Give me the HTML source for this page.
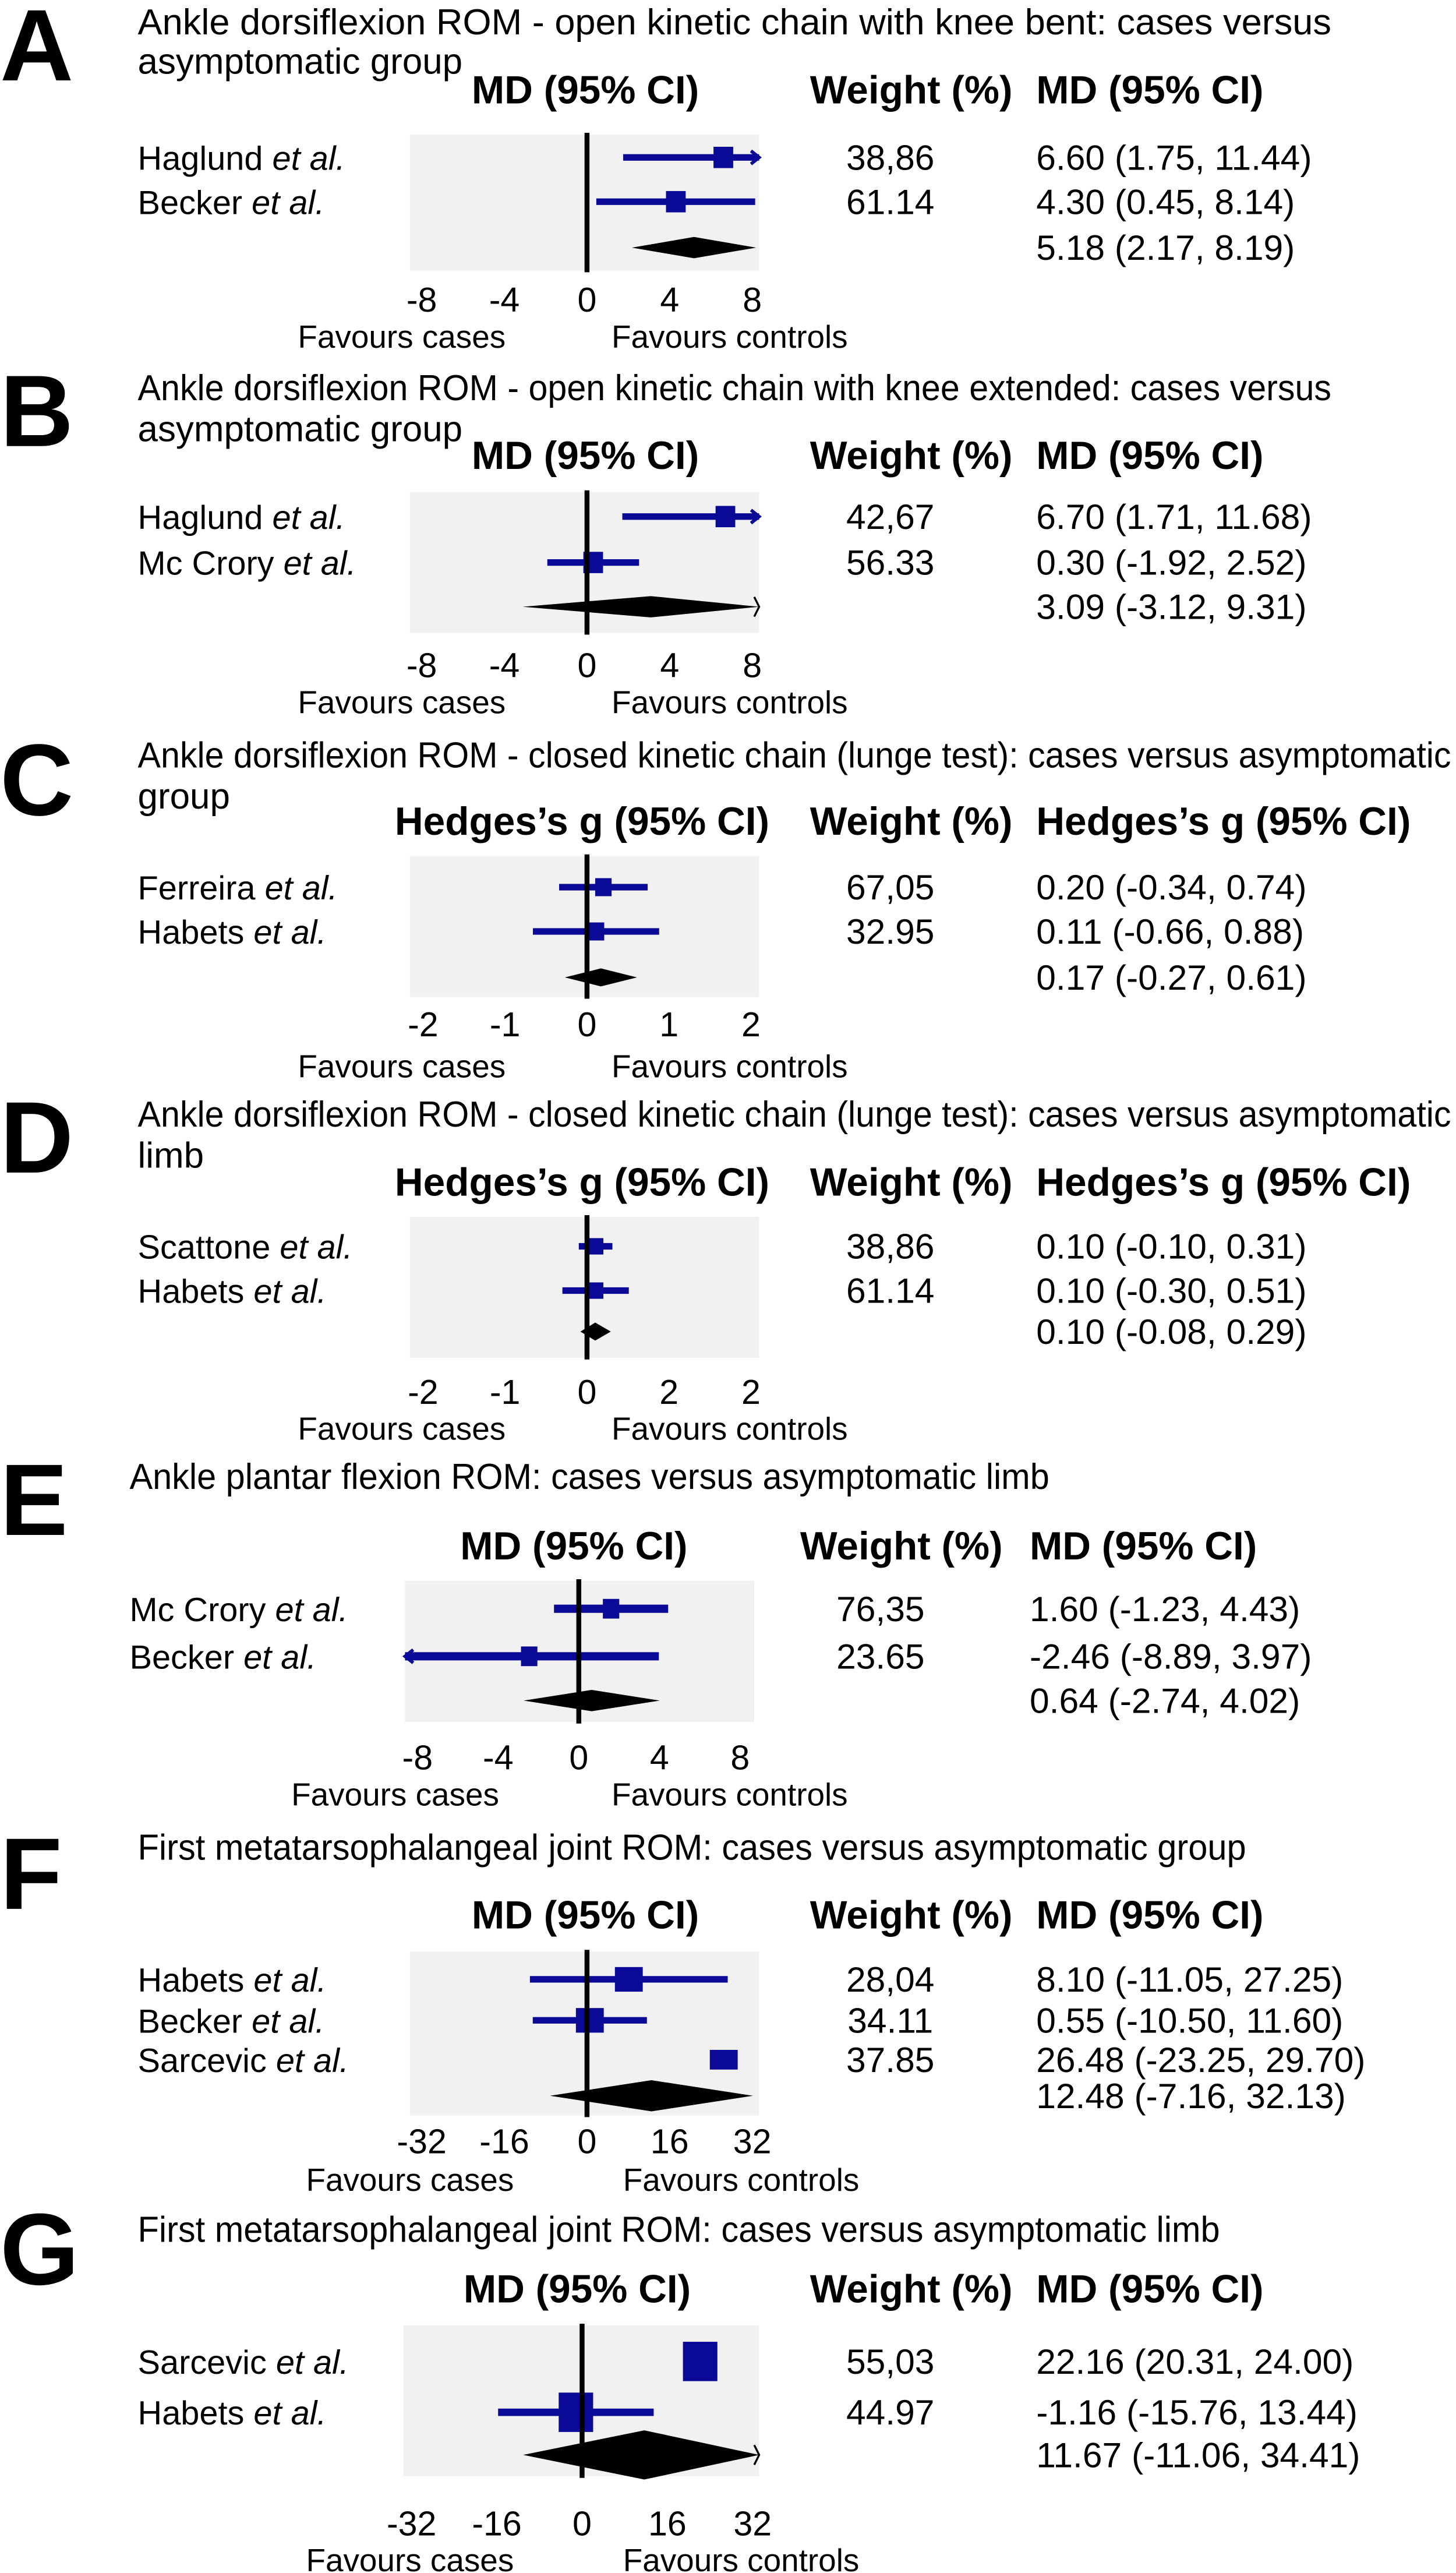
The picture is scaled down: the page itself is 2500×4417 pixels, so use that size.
<!DOCTYPE html>
<html><head><meta charset="utf-8"><style>
html,body{margin:0;padding:0;background:#fff;}
svg{display:block;font-family:"Liberation Sans",Arial,sans-serif;}
</style></head><body>
<svg id="fig" width="2500" height="4417" viewBox="0 0 888 1569" xmlns="http://www.w3.org/2000/svg"></svg>
<script>
// ---------- Data arrays ----------
const aStudies = ["Haglund", "Becker"];
const aMD = [6.60, 4.30];
const aLo = [1.75, 0.45];
const aHi = [11.44, 8.14];
const aWeights = ["38,86", "61.14"];
const aPooled = [5.18, 2.17, 8.19];
const aTicks = [-8, -4, 0, 4, 8];

const bStudies = ["Haglund", "Mc Crory"];
const bMD = [6.70, 0.30];
const bLo = [1.71, -1.92];
const bHi = [11.68, 2.52];
const bWeights = ["42,67", "56.33"];
const bPooled = [3.09, -3.12, 9.31];
const bTicks = [-8, -4, 0, 4, 8];

const cStudies = ["Ferreira", "Habets"];
const cMD = [0.20, 0.11];
const cLo = [-0.34, -0.66];
const cHi = [0.74, 0.88];
const cWeights = ["67,05", "32.95"];
const cPooled = [0.17, -0.27, 0.61];
const cTicks = [-2, -1, 0, 1, 2];
const cTickLabels = ["-2", "-1", "0", "1", "2"];

const dStudies = ["Scattone", "Habets"];
const dMD = [0.10, 0.10];
const dLo = [-0.10, -0.30];
const dHi = [0.31, 0.51];
const dWeights = ["38,86", "61.14"];
const dPooled = [0.10, -0.08, 0.29];
const dTicks = [-2, -1, 0, 1, 2];
const dTickLabels = ["-2", "-1", "0", "2", "2"];

const eStudies = ["Mc Crory", "Becker"];
const eMD = [1.60, -2.46];
const eLo = [-1.23, -8.89];
const eHi = [4.43, 3.97];
const eWeights = ["76,35", "23.65"];
const ePooled = [0.64, -2.74, 4.02];
const eTicks = [-8, -4, 0, 4, 8];

const fStudies = ["Habets", "Becker", "Sarcevic"];
const fMD = [8.10, 0.55, 26.48];
const fLo = [-11.05, -10.50, -23.25];
const fHi = [27.25, 11.60, 29.70];
const fCIShown = [true, true, false];
const fWeights = ["28,04", "34.11", "37.85"];
const fPooled = [12.48, -7.16, 32.13];
const fTicks = [-32, -16, 0, 16, 32];

const gStudies = ["Sarcevic", "Habets"];
const gMD = [22.16, -1.16];
const gLo = [20.31, -15.76];
const gHi = [24.00, 13.44];
const gCIShown = [false, true];
const gWeights = ["55,03", "44.97"];
const gPooled = [11.67, -11.06, 34.41];
const gTicks = [-32, -16, 0, 16, 32];

// ---------- Rendering ----------
const NS = "http://www.w3.org/2000/svg";
const svg = document.getElementById("fig");
function mk(tag, attrs, parent) {
  const e = document.createElementNS(NS, tag);
  for (const k in attrs) e.setAttribute(k, attrs[k]);
  (parent || svg).appendChild(e);
  return e;
}
function fmt(v, d) { return v.toFixed(d); }
const FS_TITLE = 22, FS_ROW = 20.5, FS_VAL = 21.5, FS_HDR = 24, FS_TICK = 21, FS_FAV = 19.5;

function panel(L, D) {
  const g = mk("g", {});
  
  
  const lt = mk("text", {x: 0, y: L.letterY, "font-size": 62, "font-weight": "bold"}, g);
  lt.textContent = L.letter;
  
  
  L.titles.forEach((t, i) => {
    const attrs = {x: L.labelX, y: L.titleY[i], "font-size": FS_TITLE};
    if (L.titleLen[i]) { attrs.textLength = L.titleLen[i]; attrs.lengthAdjust = "spacingAndGlyphs"; }
    const te = mk("text", attrs, g);
    te.textContent = t;
    
    
  });
  const h1 = mk("text", {x: L.h1x, y: L.headerY, "font-size": FS_HDR, "font-weight": "bold", "text-anchor": "middle"}, g);
  h1.textContent = L.hdr;
  
  
  const h2 = mk("text", {x: L.h2x, y: L.headerY, "font-size": FS_HDR, "font-weight": "bold"}, g);
  h2.textContent = "Weight (%)";
  
  
  const h3 = mk("text", {x: L.valX, y: L.headerY, "font-size": FS_HDR, "font-weight": "bold"}, g);
  h3.textContent = L.hdr;
  
  

  const bx = mk("rect", {x: L.bx0, y: L.by0, width: L.bx1 - L.bx0, height: L.by1 - L.by0, fill: "#f1f1f1"}, g);
  
  
  const X = v => L.zero + v * L.ppu;
  const clampX = x => Math.max(L.bx0, Math.min(L.bx1, x));
  const blue = "#0a0a96";

  D.studies.forEach((s, i) => {
    const y = L.rows[i];
    const lab = mk("text", {x: L.labelX, y: y + 7.5, "font-size": FS_ROW}, g);
    
    
    const t1 = mk("tspan", {}, lab); t1.textContent = s + " ";
    const t2 = mk("tspan", {"font-style": "italic"}, lab); t2.textContent = "et al.";
    const w = mk("text", {x: L.weightX, y: y + 7.5, "font-size": FS_VAL, "text-anchor": "middle"}, g);
    w.textContent = D.weights[i];
    
    
    const v = mk("text", {x: L.valX, y: y + 7.5, "font-size": FS_VAL}, g);
    v.textContent = fmt(D.md[i], 2) + " (" + fmt(D.lo[i], 2) + ", " + fmt(D.hi[i], 2) + ")";
    
    
    const shown = D.ciShown ? D.ciShown[i] : true;
    if (shown) {
      const x1 = clampX(X(D.lo[i])), x2 = clampX(X(D.hi[i]));
      const ln = mk("line", {x1: x1, x2: x2, y1: y, y2: y, stroke: blue, "stroke-width": L.lw}, g);
      
      
      if (X(D.hi[i]) > L.bx1) {
        const a = mk("path", {d: `M${L.bx1 - 5},${y - 4} L${L.bx1},${y} L${L.bx1 - 5},${y + 4}`, fill: "none", stroke: blue, "stroke-width": 2}, g);
        
        
      }
      if (X(D.lo[i]) < L.bx0) {
        const a = mk("path", {d: `M${L.bx0 + 5},${y - 4} L${L.bx0},${y} L${L.bx0 + 5},${y + 4}`, fill: "none", stroke: blue, "stroke-width": 2}, g);
        
        
      }
    }
    const sw = L.sq[i][0], sh = L.sq[i][1];
    const sq = mk("rect", {x: X(D.md[i]) - sw / 2, y: y - sh / 2, width: sw, height: sh, fill: blue}, g);
    
    
  });

  const zl = mk("line", {x1: L.zero, x2: L.zero, y1: L.by0 - 1, y2: L.by1 + 1, stroke: "#000", "stroke-width": 3}, g);
  
  

  const p = D.pooled, dy = L.diaY, hh = L.diaH / 2;
  const xl = clampX(X(p[1])), xr = clampX(X(p[2])), xm = X(p[0]);
  const dm = mk("polygon", {points: `${xl},${dy} ${xm},${dy - hh} ${xr},${dy} ${xm},${dy + hh}`, fill: "#000"}, g);
  
  
  if (X(p[2]) > L.bx1) {
    const a = mk("path", {d: `M${L.bx1 - 3},${dy - 6} L${L.bx1},${dy} L${L.bx1 - 3},${dy + 6}`, fill: "none", stroke: "#000", "stroke-width": 1.2}, g);
    
    
  }
  const pv = mk("text", {x: L.valX, y: dy + 7.5, "font-size": FS_VAL}, g);
  pv.textContent = fmt(p[0], 2) + " (" + fmt(p[1], 2) + ", " + fmt(p[2], 2) + ")";
  
  

  D.ticks.forEach((t, i) => {
    const tx = mk("text", {x: X(t), y: L.tickY, "font-size": FS_TICK, "text-anchor": "middle"}, g);
    tx.textContent = D.tickLabels ? D.tickLabels[i] : String(t);
    
    
  });
  const f1 = mk("text", {x: L.fav[0], y: L.favY, "font-size": FS_FAV, "text-anchor": "middle"}, g);
  f1.textContent = "Favours cases";
  
  
  const f2 = mk("text", {x: L.fav[1], y: L.favY, "font-size": FS_FAV, "text-anchor": "middle"}, g);
  f2.textContent = "Favours controls";
  
  
}

const base = {labelX: 84, h1x: 357, h2x: 494, valX: 632, weightX: 543, bx0: 250, bx1: 463, zero: 358, lw: 4, fav: [245, 445]};
const MDh = "MD (95% CI)", HGh = "Hedges\u2019s g (95% CI)";

panel(Object.assign({}, base, {letter: "A", letterY: 49, titles: ["Ankle dorsiflexion ROM - open kinetic chain with knee bent: cases versus", "asymptomatic group"], titleLen: [728, 0], titleY: [21, 45], headerY: 63, hdr: MDh, by0: 82, by1: 165, ppu: 12.6, rows: [96, 123], diaY: 151, diaH: 13, tickY: 190, favY: 212, sq: [[12, 13], [12, 13]]}),
  {studies: aStudies, md: aMD, lo: aLo, hi: aHi, weights: aWeights, pooled: aPooled, ticks: aTicks});

panel(Object.assign({}, base, {letter: "B", letterY: 272, titles: ["Ankle dorsiflexion ROM - open kinetic chain with knee extended: cases versus", "asymptomatic group"], titleLen: [728, 0], titleY: [244, 269], headerY: 286, hdr: MDh, by0: 300, by1: 386, ppu: 12.6, rows: [315, 343], diaY: 370, diaH: 13, tickY: 413, favY: 435, sq: [[12, 13], [12, 13]]}),
  {studies: bStudies, md: bMD, lo: bLo, hi: bHi, weights: bWeights, pooled: bPooled, ticks: bTicks});

panel(Object.assign({}, base, {letter: "C", letterY: 497, titles: ["Ankle dorsiflexion ROM - closed kinetic chain (lunge test): cases versus asymptomatic", "group"], titleLen: [801, 0], titleY: [468, 493], headerY: 509, hdr: HGh, h1x: 355, h2x: 494, by0: 522, by1: 608, ppu: 50, rows: [541, 568], diaY: 596, diaH: 11, tickY: 632, favY: 657, sq: [[10, 11], [10, 11]]}),
  {studies: cStudies, md: cMD, lo: cLo, hi: cHi, weights: cWeights, pooled: cPooled, ticks: cTicks, tickLabels: cTickLabels});

panel(Object.assign({}, base, {letter: "D", letterY: 715, titles: ["Ankle dorsiflexion ROM - closed kinetic chain (lunge test): cases versus asymptomatic", "limb"], titleLen: [801, 0], titleY: [687, 712], headerY: 729, hdr: HGh, h1x: 355, h2x: 494, by0: 742, by1: 828, ppu: 50, rows: [760, 787], diaY: 812, diaH: 11, tickY: 856, favY: 878, sq: [[10, 10], [10, 10]]}),
  {studies: dStudies, md: dMD, lo: dLo, hi: dHi, weights: dWeights, pooled: dPooled, ticks: dTicks, tickLabels: dTickLabels});

panel(Object.assign({}, base, {letter: "E", letterY: 936, labelX: 79, titles: ["Ankle plantar flexion ROM: cases versus asymptomatic limb"], titleLen: [561], titleY: [908], headerY: 951, hdr: MDh, h1x: 350, h2x: 488, valX: 628, weightX: 537, bx0: 247, bx1: 460, zero: 353, by0: 964, by1: 1050, ppu: 12.3, lw: 5, rows: [981, 1010], diaY: 1037, diaH: 13, tickY: 1079, favY: 1101, fav: [241, 445], sq: [[10, 12], [10, 12]]}),
  {studies: eStudies, md: eMD, lo: eLo, hi: eHi, weights: eWeights, pooled: ePooled, ticks: eTicks});

panel(Object.assign({}, base, {letter: "F", letterY: 1164, titles: ["First metatarsophalangeal joint ROM: cases versus asymptomatic group"], titleLen: [676], titleY: [1134], headerY: 1176, hdr: MDh, by0: 1190, by1: 1290, ppu: 3.15, rows: [1207, 1232, 1256], diaY: 1278, diaH: 19, tickY: 1313, favY: 1336, fav: [250, 452], sq: [[17, 15], [17, 15], [17, 12]]}),
  {studies: fStudies, md: fMD, lo: fLo, hi: fHi, ciShown: fCIShown, weights: fWeights, pooled: fPooled, ticks: fTicks});

panel(Object.assign({}, base, {letter: "G", letterY: 1393, titles: ["First metatarsophalangeal joint ROM: cases versus asymptomatic limb"], titleLen: [660], titleY: [1367], headerY: 1404, hdr: MDh, h1x: 352, bx0: 246, bx1: 463, zero: 355, by0: 1418, by1: 1510, ppu: 3.25, lw: 4.5, rows: [1440, 1471], diaY: 1497, diaH: 30, tickY: 1546, favY: 1568, fav: [250, 452], sq: [[21, 24], [21, 24]]}),
  {studies: gStudies, md: gMD, lo: gLo, hi: gHi, ciShown: gCIShown, weights: gWeights, pooled: gPooled, ticks: gTicks});
</script>
</body></html>
